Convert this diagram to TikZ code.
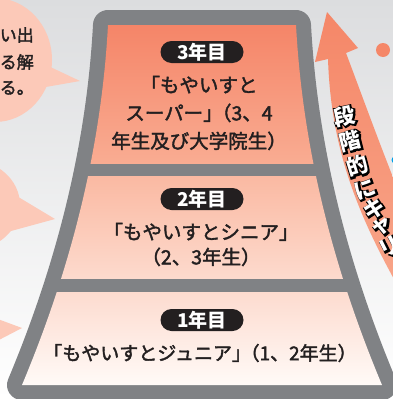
\documentclass[tikz,border=0pt]{standalone}
\usepackage{fontspec}
\newfontfamily\jpfont{Noto Sans CJK JP}
\newfontfamily\jpmed[FakeBold=2]{Noto Sans CJK JP}
\newfontfamily\jpoutline[FakeBold=12, BoldFeatures={FakeBold=12}]{Noto Sans CJK JP}
\definecolor{bgtop}{RGB}{220,221,223}
\definecolor{mtgray}{RGB}{128,130,133}
\definecolor{ink}{RGB}{35,31,32}
\definecolor{t3top}{RGB}{245,133,104}
\definecolor{t3bot}{RGB}{249,172,146}
\definecolor{t2top}{RGB}{250,185,162}
\definecolor{t2bot}{RGB}{253,218,205}
\definecolor{t1top}{RGB}{253,219,207}
\definecolor{t1bot}{RGB}{255,250,247}
\definecolor{bubble}{RGB}{252,201,184}
\definecolor{arrowor}{RGB}{245,135,104}
\definecolor{arrowlight}{RGB}{248,165,137}
\definecolor{dotblue}{RGB}{0,160,233}
\def\innerpath{(108,25) -- (296,25) .. controls (302.4,144.3) and (331.1,263.7) .. (382,385)
  -- (22,385) .. controls (72.9,263.7) and (101.6,144.3) .. (108,25) -- cycle}

\begin{document}
\begin{tikzpicture}[x=1pt, y=-1pt,
              every node/.style = {font=\jpmed, text=ink},
              pill/.style = {fill=ink, text=white, rounded corners=11pt,
                minimum width=83pt, minimum height=22pt, inner sep=0pt,
                font=\jpfont\bfseries\fontsize{19}{19}\selectfont},
              tiertext/.style = {align=center, inner sep=0pt},
              bubbletext/.style = {anchor=east, inner sep=0pt,
                font=\jpmed\fontsize{17}{17}\selectfont},
              archar/.style = {inner sep=0pt, text=white,
                font=\jpfont\bfseries\fontsize{21.5}{21.5}\selectfont},
              arshadow/.style = {archar, text=black,
                font=\jpoutline\bfseries\fontsize{21.5}{21.5}\selectfont}]
  \useasboundingbox (0,0) rectangle (393,399);
  \clip (0,0) rectangle (393,399);
  \shade[top color=bgtop, bottom color=white] (0,0) rectangle (393,399);

  \fill[bubble] (-5,60) ellipse [x radius=57, y radius=62];
  \fill[bubble] (44,64) -- (80,81) -- (40,88) -- cycle;
  \fill[bubble] (-30,205) ellipse [x radius=50, y radius=45];
  \fill[bubble] (10,192) -- (55,219) -- (0,234) -- cycle;
  \fill[bubble] (-5,318) -- (22,328) -- (-5,342) -- cycle;
  \node[bubbletext] (b1a) at (34,35) {い出};
  \node[bubbletext] (b1b) at (34,62) {る解};
  \node[bubbletext] (b1c) at (34,88) {る。};

  \filldraw[mtgray, line width=30pt, line join=round] \innerpath;
  \begin{scope}
    \clip \innerpath;
    \shade[top color=t3top, bottom color=t3bot] (0,25) rectangle (393,163);
    \shade[top color=t2top, bottom color=t2bot] (0,176) rectangle (393,278);
    \shade[top color=t1top, bottom color=t1bot] (0,292) rectangle (393,385);
  \end{scope}

  \shade[top color=arrowor, bottom color=arrowlight] (327,12) -- (358,48) -- (346,53)
    .. controls (360,90) and (378,140) .. (400,195) -- (400,290)
    .. controls (358,215) and (331,150) .. (328,59) -- (315,62) -- cycle;
  \fill[arrowor] (383,50) circle (7);
  \fill[dotblue] (395,160) circle (3.5);

  \foreach \c/\x/\y/\a [count=\i] in {段/344/116/12, 階/350/141/14, 的/357/166/17,
      に/365/189/20, キ/374/209/23, ャ/382/227/25, リ/390/247/27} {
    \node[arshadow, rotate=\a, xshift=0.6pt, yshift=-0.6pt] (s\i) at (\x,\y) {\c};
    \node[archar, rotate=\a] (c\i) at (\x,\y) {\c};
  }

  \node[pill] (p3) at (202,52) {3年目};
  \node[tiertext, font=\jpmed\fontsize{19.5}{28}\selectfont] (l3) at (199,113)
    {「もやいすと\\スーパー」\kern-0.55em（3、4\\年生及び大学院生）};
  \node[pill] (p2) at (202,199) {2年目};
  \node[tiertext, font=\jpmed\fontsize{19.5}{25}\selectfont] (l2) at (201,244.5)
    {「もやいすとシニア」\\（2、3年生）};
  \node[pill] (p1) at (202,320) {1年目};
  \node[tiertext, font=\jpmed\fontsize{19}{19}\selectfont] (l1) at (200,353)
    {「もやいすとジュニア」\kern-0.55em（1、2年生）};
\end{tikzpicture}
\end{document}
